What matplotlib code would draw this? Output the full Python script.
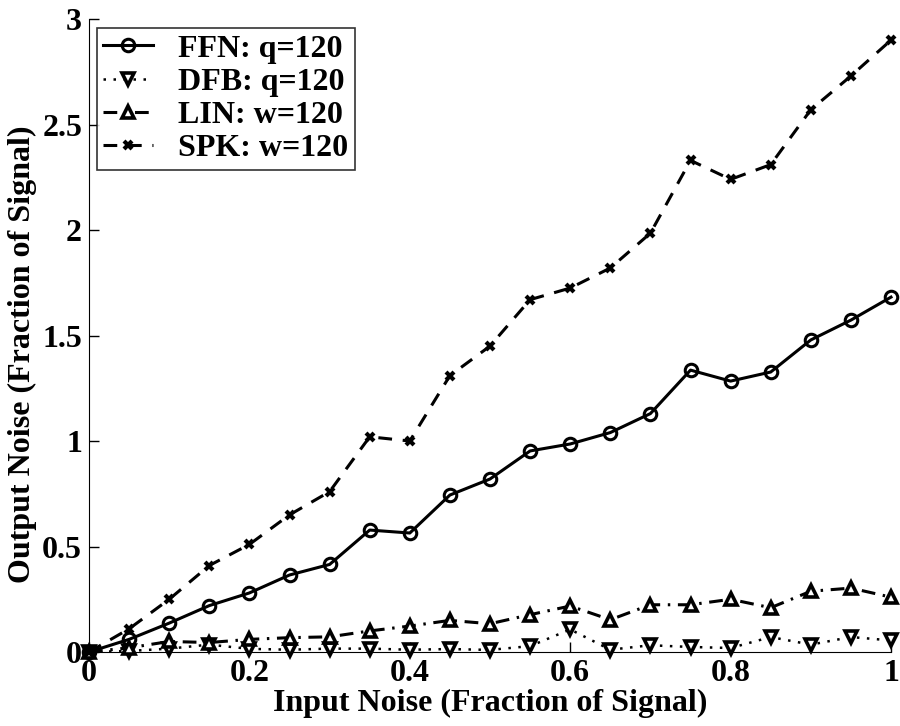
import matplotlib
matplotlib.use("Agg")
import matplotlib.pyplot as plt

x = [0, 0.05, 0.1, 0.15, 0.2, 0.25, 0.3, 0.35, 0.4, 0.45, 0.5,
     0.55, 0.6, 0.65, 0.7, 0.75, 0.8, 0.85, 0.9, 0.95, 1.0]
ffn = [0, 0.06, 0.137, 0.22, 0.28, 0.365, 0.415, 0.578, 0.564, 0.744, 0.82,
       0.953, 0.986, 1.04, 1.13, 1.336, 1.284, 1.327, 1.479, 1.573, 1.682]
dfb = [0, 0.005, 0.016, 0.035, 0.015, 0.011, 0.016, 0.016, 0.011, 0.014, 0.01,
       0.028, 0.107, 0.011, 0.032, 0.024, 0.019, 0.071, 0.035, 0.071, 0.055]
lin = [0, 0.02, 0.05, 0.045, 0.06, 0.068, 0.072, 0.1, 0.123, 0.15, 0.134,
       0.177, 0.218, 0.153, 0.224, 0.224, 0.25, 0.21, 0.288, 0.303, 0.26]
spk = [0, 0.11, 0.25, 0.41, 0.51, 0.65, 0.76, 1.02, 1.0, 1.31, 1.45,
       1.67, 1.725, 1.82, 1.985, 2.33, 2.24, 2.31, 2.57, 2.73, 2.90]
labels = ["FFN: q=120", "DFB: q=120", "LIN: w=120", "SPK: w=120"]
xticks = [0, 0.2, 0.4, 0.6, 0.8, 1]
xticklabels = ["0", "0.2", "0.4", "0.6", "0.8", "1"]
yticks = [0, 0.5, 1, 1.5, 2, 2.5, 3]
yticklabels = ["0", "0.5", "1", "1.5", "2", "2.5", "3"]

plt.rcParams['font.family'] = ['Liberation Serif', 'DejaVu Serif']
plt.rcParams['font.weight'] = 'bold'

fig = plt.figure(figsize=(9, 7.26), dpi=100)
ax = fig.add_axes([0.0989, 0.1019, 0.8911, 0.8719])

lw = 2.2
ax.plot(x, ffn, '-', color='black', lw=lw, marker='o', ms=9, mfc='none', mew=2.2,
        label=labels[0], clip_on=False, zorder=3)
ax.plot(x, dfb, color='black', lw=1.8, ls=(0, (1.0, 3.0)), marker='v', ms=9, mfc='white',
        mew=2.6, label=labels[1], clip_on=False, zorder=3)
ax.plot(x, lin, color='black', lw=lw, ls=(0, (4.5, 2.5, 0.8, 2.5)), marker='^', ms=9,
        mfc='white', mew=2.6, label=labels[2], clip_on=False, zorder=3)
ax.plot(x, spk, color='black', lw=lw, ls=(0, (4.5, 3.5)), marker='x', ms=6, mew=3,
        label=labels[3], clip_on=False, zorder=3)

ax.set_xlim(0, 1)
ax.set_ylim(0, 3)
ax.set_xticks(xticks)
ax.set_xticklabels(xticklabels)
ax.set_yticks(yticks)
ax.set_yticklabels(yticklabels)
ax.spines['top'].set_visible(False)
ax.spines['right'].set_visible(False)
ax.tick_params(direction='in', length=7, width=1, labelsize=23)
ax.tick_params(axis='x', pad=5)
ax.tick_params(axis='y', pad=5)
for lab in ax.get_xticklabels() + ax.get_yticklabels():
    lab.set_fontweight('bold')

ax.set_xlabel("Input Noise (Fraction of Signal)", fontsize=23, fontweight='bold', labelpad=1)
ax.set_ylabel("Output Noise (Fraction of Signal)", fontsize=23, fontweight='bold')
ax.yaxis.set_label_coords(-0.065, 0.47)

leg = ax.legend(loc='upper left', bbox_to_anchor=(0.0099, 0.986), fontsize=23, frameon=True,
                fancybox=False, edgecolor='black', handlelength=1.55, borderpad=0.2,
                labelspacing=0.12, handletextpad=0.8, borderaxespad=0)
leg.get_frame().set_linewidth(1.2)
for t in leg.get_texts():
    t.set_fontweight('bold')

fig.savefig("out.png", dpi=100)
